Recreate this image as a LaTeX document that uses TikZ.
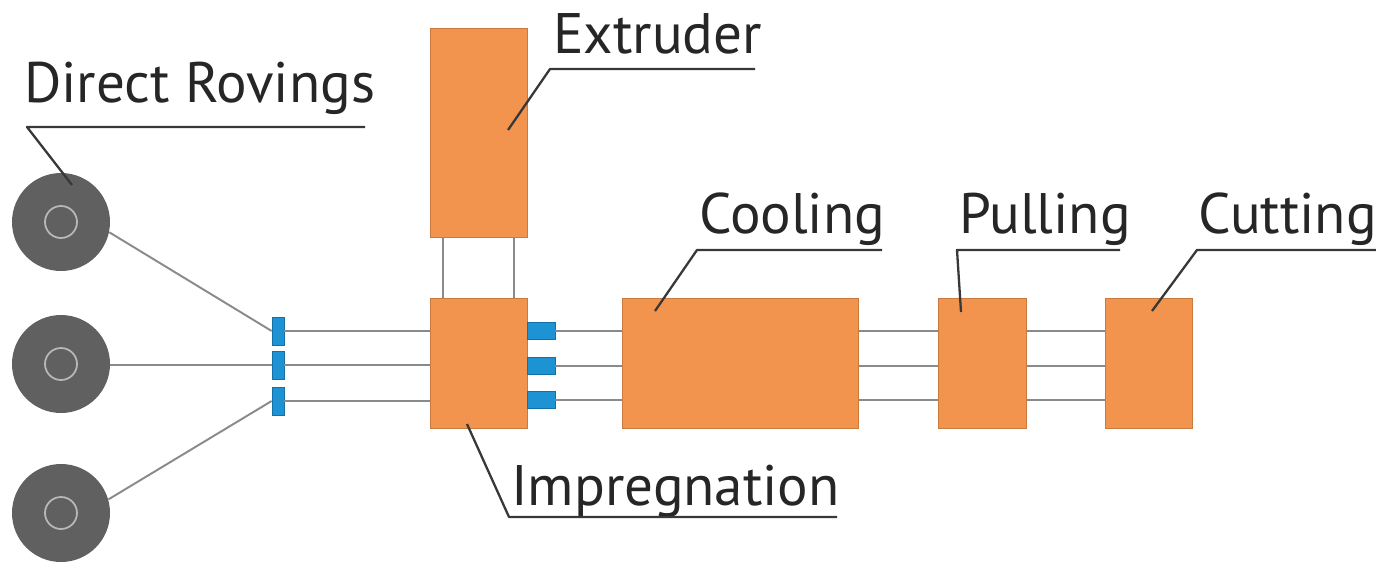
\documentclass[tikz,border=0pt]{standalone}
\usepackage{fontspec}
\setmainfont{PT Sans}
\definecolor{boxor}{HTML}{F2944E}
\definecolor{boxedge}{HTML}{C97A3E}
\definecolor{tabblue}{HTML}{1E93D3}
\definecolor{tabedge}{HTML}{1570A8}
\definecolor{spoolgray}{HTML}{606060}
\definecolor{ringgray}{HTML}{B8B8B8}
\definecolor{wire}{HTML}{8A8A8A}
\definecolor{leader}{HTML}{383838}
\begin{document}
\begin{tikzpicture}[x=0.02cm,y=-0.02cm,
  box/.style={draw=boxedge,line width=0.6pt,fill=boxor,inner sep=0pt,anchor=north west},
  tabl/.style={draw=tabedge,line width=0.4pt,fill=tabblue,inner sep=0pt,minimum width=0.24cm,minimum height=0.56cm},
  tabr/.style={draw=tabedge,line width=0.4pt,fill=tabblue,inner sep=0pt,minimum width=0.56cm,minimum height=0.34cm},
  spool/.style={circle,fill=spoolgray,inner sep=0pt,minimum size=1.96cm},
  ring/.style={circle,draw=ringgray,line width=1pt,inner sep=0pt,minimum size=0.64cm},
  wireline/.style={draw=wire,line width=1.6pt},
  lead/.style={draw=leader,line width=1.3pt,line join=round},
  lbl/.style={anchor=base west,inner sep=0pt,font=\fontsize{32.5}{38}\selectfont,text=black!85}]
\useasboundingbox[fill=white] (0,0) rectangle (1376,568);

% spools
\node[spool] (sp1) at (61,222) {};
\node[spool] (sp2) at (61,364) {};
\node[spool] (sp3) at (61,513) {};
\node[ring] (r1) at (61,222) {};
\node[ring] (r2) at (61,364) {};
\node[ring] (r3) at (61,513) {};

% boxes
\node[box,minimum width=1.94cm,minimum height=4.18cm] (extr) at (430,28) {};
\node[box,minimum width=1.94cm,minimum height=2.6cm] (impr) at (430,298) {};
\node[box,minimum width=4.72cm,minimum height=2.6cm] (cool) at (622,298) {};
\node[box,minimum width=1.76cm,minimum height=2.6cm] (pull) at (938,298) {};
\node[box,minimum width=1.74cm,minimum height=2.6cm] (cutb) at (1105,298) {};

% left tabs
\node[tabl] (tl1) at (278,331) {};
\node[tabl] (tl2) at (278,365) {};
\node[tabl] (tl3) at (278,401) {};
% right tabs
\node[tabr] (tr1) at (541,331) {};
\node[tabr] (tr2) at (541,366) {};
\node[tabr] (tr3) at (541,400) {};

% wires from spools
\draw[wireline,line width=1.1pt] (sp1.-12) -- (tl1.west);
\draw[wireline] (sp2.east |- tl2.west) -- (tl2.west);
\draw[wireline,line width=1.1pt] (sp3.16) -- (tl3.west);

% wires tabs -> impregnation -> ... -> cutting
\foreach \i in {1,2,3}{
  \draw[wireline] (tl\i.east) -- (impr.west |- tl\i.east);
  \draw[wireline] (tr\i.east) -- (cool.west |- tr\i.east);
  \draw[wireline] (cool.east |- tr\i.east) -- (pull.west |- tr\i.east);
  \draw[wireline] (pull.east |- tr\i.east) -- (cutb.west |- tr\i.east);
}
% extruder -> impregnation
\draw[wireline] ([xshift=0.26cm]extr.south west) -- ([xshift=0.26cm]impr.north west);
\draw[wireline] ([xshift=-0.28cm]extr.south east) -- ([xshift=-0.28cm]impr.north east);

% labels
\node[lbl] (tDR) at (24,102) {Direct Rovings};
\node[lbl] (tEx) at (553,53) {Extruder};
\node[lbl] (tCo) at (699,233) {Cooling};
\node[lbl] (tPu) at (959,233) {Pulling};
\node[lbl] (tCu) at (1198,233) {Cutting};
\node[lbl] (tIm) at (511,505) {Impregnation};

% leader coordinates
\coordinate (dr0) at (27,127);  \coordinate (dr1) at (365,127); \coordinate (drE) at (72,185);
\coordinate (ex0) at (550,69);  \coordinate (ex1) at (755,69);  \coordinate (exE) at (508,130);
\coordinate (co0) at (697,250); \coordinate (co1) at (882,250); \coordinate (coE) at (655,311);
\coordinate (pu0) at (957,250); \coordinate (pu1) at (1120,250); \coordinate (puE) at (961,312);
\coordinate (cu0) at (1197,250); \coordinate (cu1) at (1376,250); \coordinate (cuE) at (1152,311);
\coordinate (im0) at (509,517); \coordinate (im1) at (837,517); \coordinate (imE) at (467,424);

\draw[lead] (drE) -- (dr0) -- (dr1);
\draw[lead] (exE) -- (ex0) -- (ex1);
\draw[lead] (coE) -- (co0) -- (co1);
\draw[lead] (puE) -- (pu0) -- (pu1);
\draw[lead] (cuE) -- (cu0) -- (cu1);
\draw[lead] (imE) -- (im0) -- (im1);
\end{tikzpicture}
\end{document}
